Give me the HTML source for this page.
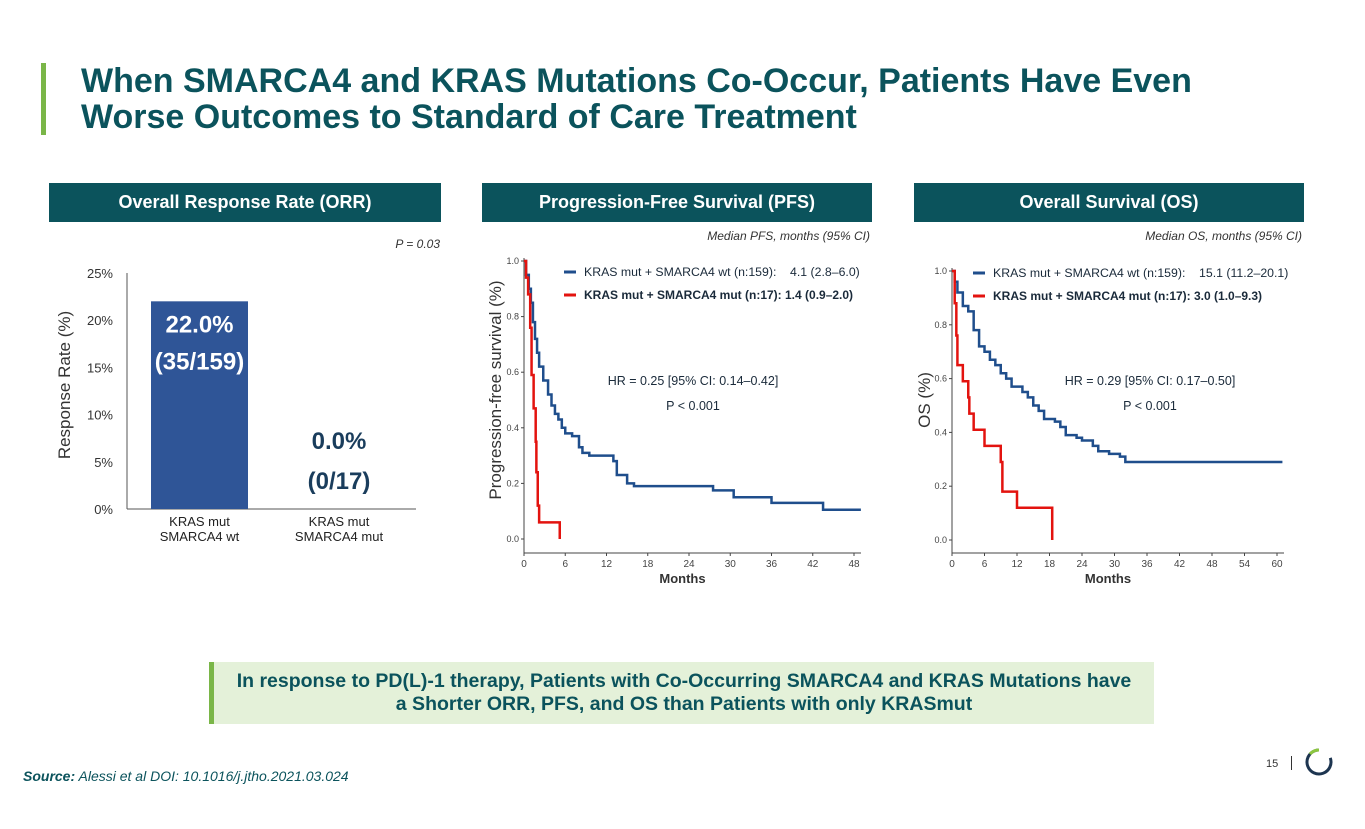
<!DOCTYPE html>
<html><head><meta charset="utf-8"><style>
body{margin:0;width:1365px;height:829px;background:#fff;font-family:"Liberation Sans",sans-serif;overflow:hidden;position:relative}
.hdr{position:absolute;top:183px;height:39px;background:#0b535c;color:#fff;font-weight:bold;font-size:18px;line-height:39px;text-align:center}
</style></head><body>
<div style="position:absolute;left:41px;top:63px;width:5px;height:72px;background:#7ab648"></div>
<div style="position:absolute;left:81px;top:63px;font-size:34px;font-weight:bold;color:#0b535c;line-height:36px">When SMARCA4 and KRAS Mutations Co-Occur, Patients Have Even<br>Worse Outcomes to Standard of Care Treatment</div>
<div class="hdr" style="left:49px;width:392px">Overall Response Rate (ORR)</div>
<div class="hdr" style="left:482px;width:390px">Progression-Free Survival (PFS)</div>
<div class="hdr" style="left:914px;width:390px">Overall Survival (OS)</div>
<svg width="1365" height="829" style="position:absolute;left:0;top:0" font-family="Liberation Sans, sans-serif">
<text x="440" y="248" font-size="12" font-style="italic" text-anchor="end" fill="#333">P = 0.03</text>
<text x="870" y="240" font-size="12" font-style="italic" text-anchor="end" fill="#333">Median PFS, months (95% CI)</text>
<text x="1302" y="240" font-size="12" font-style="italic" text-anchor="end" fill="#333">Median OS, months (95% CI)</text>
<g id="orr"></g>
<g id="pfs"></g>
<g id="os"></g>
</svg>
<div style="position:absolute;left:209px;top:662px;width:945px;height:62px;background:#e4f1d9;border-left:5px solid #7ab648;box-sizing:border-box;color:#0b535c;font-weight:bold;font-size:19.5px;text-align:center;line-height:23px;padding-top:8px;white-space:nowrap">In response to PD(L)-1 therapy, Patients with Co-Occurring SMARCA4 and KRAS Mutations have<br>a Shorter ORR, PFS, and OS than Patients with only KRASmut</div>
<div style="position:absolute;left:23px;top:768px;font-size:14px;font-style:italic;color:#0b535c"><b>Source:</b> Alessi et al DOI: 10.1016/j.jtho.2021.03.024</div>
<div style="position:absolute;left:1266px;top:758px;font-size:11px;color:#333">15</div>
<div style="position:absolute;left:1291px;top:756px;width:1px;height:14px;background:#333"></div>
<svg style="position:absolute;left:1303px;top:746px" width="32" height="32"><circle cx="16" cy="16" r="12" fill="none" stroke="#1d3550" stroke-width="3" stroke-dasharray="60 20" transform="rotate(-20 16 16)"/><path d="M7 8 A12 12 0 0 1 16 4" fill="none" stroke="#8cc63f" stroke-width="3"/></svg>
<script>
const NS='http://www.w3.org/2000/svg';
function mk(p,t,a,txt){const e=document.createElementNS(NS,t);for(const k in a)e.setAttribute(k,a[k]);if(txt!==undefined)e.textContent=txt;p.appendChild(e);return e;}
// ORR data
const orrCats=[['KRAS mut','SMARCA4 wt'],['KRAS mut','SMARCA4 mut']];
const orrVals=[22.0,0.0];
const orrLabels=[['22.0%','(35/159)'],['0.0%','(0/17)']];
const orrTicks=[0,5,10,15,20,25];
// PFS data
const pfsTicksX=[0,6,12,18,24,30,36,42,48];
const survTicksY=[0,0.2,0.4,0.6,0.8,1.0];
const pfsWtT=[0,0.3,0.7,1.0,1.3,1.6,1.9,2.2,2.8,3.5,4,4.5,5,5.5,6,7,8,8.5,9.5,13,13.5,15,16,27.5,30.5,36,43.5,49];
const pfsWtS=[1.0,0.95,0.9,0.85,0.78,0.72,0.67,0.62,0.57,0.52,0.48,0.45,0.43,0.4,0.38,0.37,0.33,0.31,0.3,0.28,0.23,0.2,0.19,0.175,0.15,0.13,0.105,0.105];
const pfsMutT=[0,0.3,0.6,0.9,1.1,1.4,1.7,1.8,2.0,2.2,5.2];
const pfsMutS=[1,0.94,0.88,0.76,0.59,0.47,0.35,0.24,0.12,0.06,0.0];
// OS data
const osTicksX=[0,6,12,18,24,30,36,42,48,54,60];
const osWtT=[0,0.5,1,2,3,4,5,6,7,8,9,10,11,13,14,15,16,17,19,20,21,23,24,26,27,29,31,32,61];
const osWtS=[1,0.96,0.92,0.87,0.85,0.78,0.72,0.7,0.67,0.65,0.62,0.6,0.57,0.55,0.53,0.5,0.48,0.45,0.44,0.42,0.39,0.38,0.37,0.35,0.33,0.32,0.31,0.29,0.29];
const osMutT=[0,0.5,0.8,1,2,3,3.2,4,6,9,9.3,12,18.5];
const osMutS=[1,0.88,0.76,0.65,0.59,0.53,0.47,0.41,0.35,0.29,0.18,0.12,0.0];

// ORR chart
(function(){
 const g=document.getElementById('orr');
 const y=v=>509-(v/25)*236;
 mk(g,'line',{x1:127,y1:273,x2:127,y2:509,stroke:'#555'});
 mk(g,'line',{x1:127,y1:509,x2:416,y2:509,stroke:'#555'});
 orrTicks.forEach(t=>{const e=mk(g,'text',{x:113,y:y(t)+5,'font-size':13,'text-anchor':'end',fill:'#333'},t+'%');
  });
 const yt=mk(g,'text',{x:0,y:0,'font-size':17,'text-anchor':'middle',fill:'#333',transform:'translate(70,385) rotate(-90)'},'Response Rate  (%)');
 
 const cx=[199.5,339];
 orrVals.forEach((v,i)=>{
  const b=mk(g,'rect',{x:cx[i]-48.5,y:y(v),width:97,height:509-y(v),fill:'#2f5597'});
  
  const inside=v>5;const col=inside?'#fff':'#1a3d5c';
  const l1=mk(g,'text',{x:cx[i],y:inside?y(v)+31:y(v)-60,'font-size':24,'font-weight':'bold','text-anchor':'middle',fill:col},orrLabels[i][0]);
  
  const l2=mk(g,'text',{x:cx[i],y:inside?y(v)+68:y(v)-20,'font-size':24,'font-weight':'bold','text-anchor':'middle',fill:col},orrLabels[i][1]);
  
  orrCats[i].forEach((c,j)=>{const t=mk(g,'text',{x:cx[i],y:526+j*15,'font-size':13,'text-anchor':'middle',fill:'#222'},c);
   });
 });
})();

function km(gid,o){
 const g=document.getElementById(gid);
 const x=t=>o.x0+t*o.sx, y=s=>o.y0-s*o.sy;
 mk(g,'line',{x1:o.x0,y1:o.axY,x2:o.xEnd,y2:o.axY,stroke:'#444'});
 mk(g,'line',{x1:o.x0,y1:y(1)-3,x2:o.x0,y2:o.axY,stroke:'#444'});
 o.ticksX.forEach(t=>{mk(g,'line',{x1:x(t),y1:o.axY,x2:x(t),y2:o.axY+3,stroke:'#444'});
  const e=mk(g,'text',{x:x(t),y:o.axY+14,'font-size':10,'text-anchor':'middle',fill:'#444'},t);
  });
 survTicksY.forEach(s=>{mk(g,'line',{x1:o.x0-3,y1:y(s),x2:o.x0,y2:y(s),stroke:'#444'});
  const e=mk(g,'text',{x:o.x0-5,y:y(s)+3,'font-size':9,'text-anchor':'end',fill:'#444'},s.toFixed(1));
  });
 const xt=mk(g,'text',{x:(o.x0+o.xEnd)/2-10,y:o.axY+30,'font-size':13,'font-weight':'bold','text-anchor':'middle',fill:'#333'},'Months');
 
 const yt=mk(g,'text',{x:0,y:0,'font-size':o.ytSize,'text-anchor':'middle',fill:'#333',transform:`translate(${o.ytX},${o.ytY}) rotate(-90)`},o.yTitle);
 
 [[o.wtT,o.wtS,'#1f4e8c','wt'],[o.mutT,o.mutS,'#e3130f','mut']].forEach(([T,S,c,n])=>{
  let d='M'+x(T[0])+' '+y(S[0]);
  for(let i=1;i<T.length;i++){d+=' H'+x(T[i])+' V'+y(S[i]);}
  const p=mk(g,'path',{d:d,fill:'none',stroke:c,'stroke-width':2.5});
  
 });
 const lx=o.legX;
 mk(g,'line',{x1:lx,y1:o.legY,x2:lx+12,y2:o.legY,stroke:'#1f4e8c','stroke-width':3});
 mk(g,'line',{x1:lx,y1:o.legY+23,x2:lx+12,y2:o.legY+23,stroke:'#e3130f','stroke-width':3});
 const l1=mk(g,'text',{x:lx+20,y:o.legY+4,'font-size':12.3,fill:'#1a2a3a','xml:space':'preserve'},o.leg1);
 l1.style.whiteSpace='pre';
 
 const l2=mk(g,'text',{x:lx+20,y:o.legY+27,'font-size':12,'font-weight':'bold',fill:'#1a2a3a'},o.leg2);
 
 const h=mk(g,'text',{x:o.hrX,y:o.hrY,'font-size':12.5,'text-anchor':'middle',fill:'#1a2a3a'},o.hr);
 
 const pv=mk(g,'text',{x:o.hrX,y:o.hrY+25,'font-size':12.5,'text-anchor':'middle',fill:'#1a2a3a'},'P < 0.001');
 
}
km('pfs',{x0:524,sx:330/48,y0:539,sy:278,axY:553,xEnd:861,ticksX:pfsTicksX,wtT:pfsWtT,wtS:pfsWtS,mutT:pfsMutT,mutS:pfsMutS,
 yTitle:'Progression-free survival (%)',ytSize:17,ytX:501,ytY:390,legX:564,legY:272,
 leg1:'KRAS mut + SMARCA4 wt (n:159):    4.1 (2.8–6.0)',leg2:'KRAS mut + SMARCA4 mut (n:17): 1.4 (0.9–2.0)',hr:'HR = 0.25 [95% CI: 0.14–0.42]',hrX:693,hrY:385});
km('os',{x0:952,sx:325/60,y0:540,sy:269,axY:553,xEnd:1284,ticksX:osTicksX,wtT:osWtT,wtS:osWtS,mutT:osMutT,mutS:osMutS,
 yTitle:'OS (%)',ytSize:17,ytX:930,ytY:400,legX:973,legY:273,
 leg1:'KRAS mut + SMARCA4 wt (n:159):    15.1 (11.2–20.1)',leg2:'KRAS mut + SMARCA4 mut (n:17): 3.0 (1.0–9.3)',hr:'HR = 0.29 [95% CI: 0.17–0.50]',hrX:1150,hrY:385});
</script>
</body></html>
